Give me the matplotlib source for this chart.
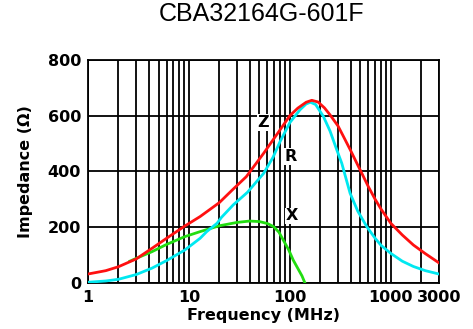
import matplotlib
matplotlib.use("Agg")
import matplotlib.pyplot as plt
from matplotlib.ticker import FixedLocator, NullFormatter

# impedance |Z| (red)
z_freq = [1, 1.5, 2, 3, 4.3, 6, 9.1, 12.9, 20, 27, 37, 55, 80, 100, 120, 145, 165,
          190, 220, 250, 300, 340, 400, 460, 530, 600, 700, 800, 1000, 1300, 1675, 2200, 3000]
z_vals = [32, 44, 58, 86, 124, 160, 204, 238, 288, 334, 381, 465, 549, 600, 627, 648, 655,
          649, 628, 603, 563, 525, 475, 430, 385, 345, 300, 265, 214, 172, 136, 105, 72]

# resistance R (cyan)
r_freq = [1, 1.5, 2, 3, 4.3, 6, 9.1, 12.9, 15, 19, 21, 27.5, 38, 55, 68, 80, 100, 126,
          145, 160, 180, 215, 250, 292, 327, 395, 470, 578, 700, 800, 1000, 1300, 1675, 2200, 3000]
r_vals = [2.5, 7, 13, 30, 53, 80, 118, 160, 184, 214, 235, 280, 325, 393, 450, 507, 575, 621,
          642, 648, 640, 597, 545, 477, 429, 322, 258, 202, 160, 135, 106, 78, 59, 44, 32]

# reactance X (green)
x_freq = [2.6, 3, 4.3, 6, 9.1, 12.9, 20, 30, 40, 50, 60, 69, 78, 86, 97, 108, 120, 132, 141]
x_vals = [78, 88, 112, 138, 166, 184, 205, 217, 222, 220, 213, 202, 182, 154, 120, 82, 52, 25, 0]

major_x = [1, 10, 100, 1000, 3000]
major_x_labels = ["1", "10", "100", "1000", "3000"]
minor_x = [2, 3, 4, 5, 6, 7, 8, 9, 20, 30, 40, 50, 60, 70, 80, 90,
           200, 300, 400, 500, 600, 700, 800, 900, 2000]
y_ticks = [0, 200, 400, 600, 800]

fig = plt.figure(figsize=(4.73, 3.29), dpi=100)
ax = fig.add_axes([0.186, 0.140, 0.742, 0.678])

ax.plot(x_freq, x_vals, color="#22dd11", lw=2.0, zorder=3)
ax.plot(r_freq, r_vals, color="#00e8f0", lw=2.0, zorder=4)
ax.plot(z_freq, z_vals, color="#ff1010", lw=2.0, zorder=5)

ax.set_xscale("log")
ax.set_xlim(1, 3000)
ax.set_ylim(0, 800)
ax.xaxis.set_major_locator(FixedLocator(major_x))
ax.set_xticklabels(major_x_labels)
ax.xaxis.set_minor_locator(FixedLocator(minor_x))
ax.xaxis.set_minor_formatter(NullFormatter())
ax.set_yticks(y_ticks)

ax.grid(True, which="major", color="black", lw=1.3)
ax.grid(True, which="minor", axis="x", color="black", lw=1.3)
ax.set_axisbelow(True)
for s in ax.spines.values():
    s.set_color("black")
    s.set_linewidth(1.3)

ax.tick_params(which="both", length=0)
ax.tick_params(axis="y", pad=5, labelsize=11.5)
ax.tick_params(axis="x", pad=5, labelsize=11.5)
for lab in ax.get_xticklabels() + ax.get_yticklabels():
    lab.set_fontweight("bold")

ax.set_xlabel("Frequency (MHz)", fontsize=11.5, fontweight="bold")
ax.set_ylabel("Impedance (Ω)", fontsize=11.5, fontweight="bold")
ax.xaxis.set_label_coords(0.5, -0.112)
ax.yaxis.set_label_coords(-0.177, 0.5)
ax.yaxis.label.set_verticalalignment("center")

box = dict(facecolor="white", edgecolor="none", pad=0.5)
ax.text(54.6, 575, "Z", fontsize=11.5, fontweight="bold", ha="center", va="center", bbox=box, zorder=6)
ax.text(102, 453, "R", fontsize=11.5, fontweight="bold", ha="center", va="center", bbox=box, zorder=6)
ax.text(104, 241, "X", fontsize=11.5, fontweight="bold", ha="center", va="center", bbox=box, zorder=6)

fig.text(262 / 473, 1 - 14 / 329, "CBA32164G-601F", fontsize=18,
         family="Liberation Sans", ha="center", va="center")

fig.savefig("out.png", dpi=100)
